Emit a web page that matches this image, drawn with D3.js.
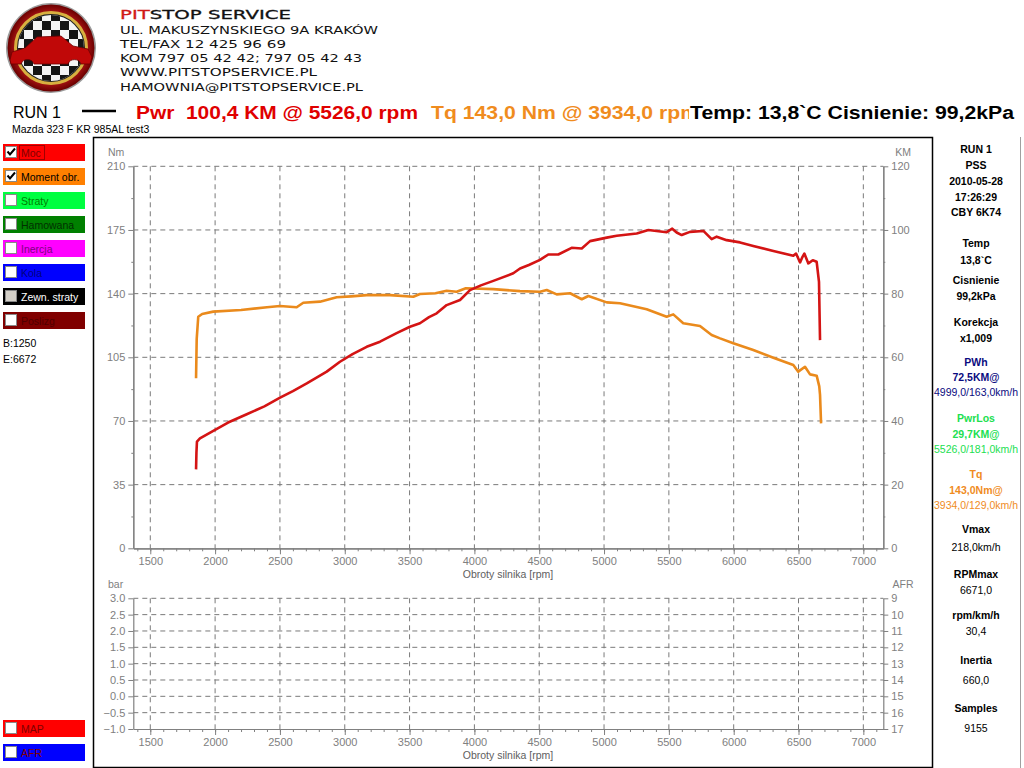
<!DOCTYPE html>
<html><head><meta charset="utf-8">
<script src="https://cdn.jsdelivr.net/npm/d3@7/dist/d3.min.js"></script>
<style>body{margin:0;background:#fff}svg{display:block}</style>
</head><body>
<svg id="c" width="1024" height="768"></svg>
<script>
// ---------------- DATA ----------------
const powerRpm = [1853,1856,1860,1883,1986,2100,2244,2380,2501,2600,2707,2861,2963,3060,3169,3272,3400,3503,3580,3650,3709,3786,3889,3966,4050,4146,4300,4352,4420,4506,4570,4647,4750,4828,4892,5021,5098,5252,5342,5420,5483,5526,5560,5599,5663,5766,5830,5869,5946,6049,6151,6306,6460,6481,6512,6530,6545,6576,6610,6640,6658,6666];
const powerKM  = [24.8,30.0,33.5,34.5,36.9,39.5,42.1,44.6,47.3,49.4,51.8,55.5,58.6,61.0,63.3,64.9,67.6,69.6,70.7,72.6,73.8,76.4,78.0,81.1,82.6,84.0,86.4,87.9,89.0,90.6,92.3,92.3,94.4,94.2,96.5,97.6,98.2,98.9,100.0,99.6,99.3,100.4,99.2,98.4,99.4,99.7,97.1,97.9,96.8,96.1,95.0,93.4,91.9,92.6,89.8,91.5,92.6,89.5,90.5,90.0,83.7,65.4];
const torqueRpm = [1853,1858,1870,1900,1986,2200,2400,2500,2629,2680,2809,2938,3050,3169,3350,3529,3580,3700,3786,3863,3934,4146,4352,4506,4558,4635,4738,4828,4879,5021,5123,5329,5483,5534,5611,5740,5830,5895,5997,6151,6306,6460,6498,6550,6589,6640,6660,6666,6674];
const torqueNm  = [93.5,115.0,127.3,128.8,130.1,131.0,132.5,133.2,132.5,135.0,135.6,138.0,138.5,139.2,139.2,138.3,139.8,140.2,141.6,141.0,143.0,142.5,141.4,141.0,142.0,139.6,140.2,136.9,138.7,135.2,134.7,131.4,127.3,128.6,123.7,122.2,117.3,115.4,112.7,109.0,104.8,100.8,97.1,99.8,95.6,94.9,89.0,84.3,68.7];
const rpmTicks = [1500,2000,2500,3000,3500,4000,4500,5000,5500,6000,6500,7000];
const nmTicks  = [0,35,70,105,140,175,210];
const kmTicks  = [0,20,40,60,80,100,120];
const barTicks = [-1.0,-0.5,0.0,0.5,1.0,1.5,2.0,2.5,3.0];
const afrTicks = [9,10,11,12,13,14,15,16,17];
const legendNames  = ["Moc","Moment obr.","Straty","Hamowana","Inercja","Kola","Zewn. straty","Poslizg"];
const legendColors = ["#ff0000","#ff8000","#00ff40","#008000","#ff00ff","#0000ff","#000000","#800000"];
const legendText   = ["#800000","#000000","#008000","#003000","#800080","#000080","#ffffff","#500000"];
const legendChecked= [true,true,false,false,false,false,false,false];
const legend2Names = ["MAP","AFR"];
const legend2Colors= ["#ff0000","#0000ff"];
const headerLines = ["UL. MAKUSZYNSKIEGO 9A KRAKÓW","TEL/FAX 12 425 96 69","KOM 797 05 42 42; 797 05 42 43","WWW.PITSTOPSERVICE.PL","HAMOWNIA@PITSTOPSERVICE.PL"];
const panelText  = ["RUN 1","PSS","2010-05-28","17:26:29","CBY 6K74","Temp","13,8`C","Cisnienie","99,2kPa","Korekcja","x1,009","PWh","72,5KM@","4999,0/163,0km/h","PwrLos","29,7KM@","5526,0/181,0km/h","Tq","143,0Nm@","3934,0/129,0km/h","Vmax","218,0km/h","RPMmax","6671,0","rpm/km/h","30,4","Inertia","660,0","Samples","9155"];
const panelKind  = ["b","b","b","b","b","b","b","b","b","b","b","pb","pb","pn","gb","gb","gn","ob","ob","on","b","n","b","n","b","n","b","n","b","n"];

// ---------------- DRAW ----------------
const svg = d3.select("#c");
const F = "'Liberation Sans', Arial, sans-serif";
const GRAY = "#808080";

// Logo
const defs = svg.append("defs");
const rg = defs.append("radialGradient").attr("id","rg");
rg.append("stop").attr("offset","70%").attr("stop-color","#d02020");
rg.append("stop").attr("offset","100%").attr("stop-color","#6a0000");
defs.append("clipPath").attr("id","lc").append("circle").attr("r",33);
const logo = svg.append("g").attr("transform","translate(51,48)");
logo.append("circle").attr("r",45).attr("fill","#9a9a9a");
logo.append("circle").attr("r",43.5).attr("fill","url(#rg)");
logo.append("circle").attr("r",35.5).attr("fill","#222").attr("stroke","#d8b040").attr("stroke-width",3);
const chk = logo.append("g").attr("clip-path","url(#lc)");
chk.append("rect").attr("x",-34).attr("y",-34).attr("width",68).attr("height",68).attr("fill","#f4f4f4");
for (let i=0;i<8;i++) for (let j=0;j<8;j++) if ((i+j)%2===0)
  chk.append("rect").attr("x",-36+i*9).attr("y",-36+j*9).attr("width",9).attr("height",9).attr("fill","#151515");
logo.append("path").attr("fill","#c00808").attr("stroke","#700000").attr("stroke-width",0.8)
  .attr("d","M-41,12 L-39,4 L-26,0 L-14,-11 L10,-12 L22,-2 L37,1 L41,9 L39,16 L30,16 A7,7 0 0 0 17,16 L-17,16 A7,7 0 0 0 -30,16 L-40,16 Z");

// Header text
svg.append("text").attr("x",120).attr("y",18.5).attr("font-family","'DejaVu Sans',sans-serif").attr("font-size",12.5)
  .attr("textLength",171).attr("lengthAdjust","spacingAndGlyphs").attr("fill","#111").attr("stroke","#111").attr("stroke-width",0.3)
  .call(t=>{t.append("tspan").attr("fill","#d01818").attr("stroke","#d01818").text("PIT");t.append("tspan").text("STOP SERVICE");});
const hlW = [258,166,242,197,243];
const hlY = [33.5,47.5,62,76,90.5];
headerLines.forEach((s,i)=>svg.append("text").attr("x",120).attr("y",hlY[i])
  .attr("font-family","'DejaVu Sans',sans-serif").attr("font-size",9.6).attr("fill","#111")
  .attr("textLength",hlW[i]).attr("lengthAdjust","spacingAndGlyphs").text(s));

// Run line
svg.append("text").attr("x",13).attr("y",118).attr("font-family",F).attr("font-size",16).attr("fill","#000").text("RUN 1");
svg.append("line").attr("x1",82).attr("x2",116).attr("y1",111).attr("y2",111).attr("stroke","#000").attr("stroke-width",2.5);
svg.append("text").attr("x",136).attr("y",118.5).attr("font-family",F).attr("font-size",18).attr("font-weight","bold")
  .attr("fill","#e00000").attr("textLength",282).attr("lengthAdjust","spacingAndGlyphs").attr("xml:space","preserve").text("Pwr  100,4 KM @ 5526,0 rpm");
svg.append("text").attr("x",431).attr("y",118.5).attr("font-family",F).attr("font-size",18).attr("font-weight","bold")
  .attr("fill","#f08c1e").attr("textLength",268).attr("lengthAdjust","spacingAndGlyphs").text("Tq 143,0 Nm @ 3934,0 rpm");
svg.append("rect").attr("x",689).attr("y",100).attr("width",335).attr("height",24).attr("fill","#fff");
svg.append("text").attr("x",690).attr("y",118.5).attr("font-family",F).attr("font-size",18).attr("font-weight","bold")
  .attr("fill","#000").attr("textLength",324).attr("lengthAdjust","spacingAndGlyphs").text("Temp: 13,8`C Cisnienie: 99,2kPa");
svg.append("text").attr("x",12).attr("y",132.5).attr("font-family",F).attr("font-size",10.5).attr("fill","#000").text("Mazda 323 F KR 985AL test3");

// Frames
svg.append("rect").attr("x",93.5).attr("y",137.5).attr("width",839).attr("height",630).attr("fill","none").attr("stroke","#000").attr("stroke-width",1.5);
svg.append("line").attr("x1",1020.5).attr("x2",1020.5).attr("y1",137).attr("y2",768).attr("stroke","#a0a0a0");

// Legend
function legendItem(y,name,color,tcol,checked){
  const g = svg.append("g").attr("transform",`translate(0,${y})`);
  g.append("rect").attr("x",3).attr("y",0).attr("width",82).attr("height",17).attr("fill",color);
  g.append("rect").attr("x",5.5).attr("y",2.5).attr("width",11).attr("height",11)
    .attr("fill", name==="Zewn. straty" ? "#d4d0c8" : "#fff").attr("stroke","#888").attr("stroke-width",1);
  if (checked) g.append("path").attr("d","M7.5,7.5 L10,10.5 L15,4.5").attr("fill","none").attr("stroke","#000").attr("stroke-width",2);
  g.append("text").attr("x",21).attr("y",12.5).attr("font-family",F).attr("font-size",10.5).attr("fill",tcol).text(name);
  if (name==="Moc") g.append("rect").attr("x",19.5).attr("y",1.5).attr("width",25).attr("height",14).attr("fill","none").attr("stroke","#400").attr("stroke-dasharray","1,1");
}
legendNames.forEach((n,i)=>legendItem(144+i*24,n,legendColors[i],legendText[i],legendChecked[i]));
svg.append("text").attr("x",3).attr("y",347).attr("font-family",F).attr("font-size",10.5).text("B:1250");
svg.append("text").attr("x",3).attr("y",363).attr("font-family",F).attr("font-size",10.5).text("E:6672");
legend2Names.forEach((n,i)=>legendItem(720+i*24,n,legend2Colors[i],"#800000",false));

// Scales
const x = d3.scaleLinear().domain([1369,7154]).range([133.3,883.3]);
const yNm = d3.scaleLinear().domain([0,210]).range([548.3,166.3]);
const yKm = d3.scaleLinear().domain([0,120]).range([548.3,166.3]);
const yBar = d3.scaleLinear().domain([-1,3]).range([729,598.3]);
const yAfr = d3.scaleLinear().domain([9,17]).range([598.3,729]);
const minorRpm = d3.range(1400,7200,100);

function styleAxis(g){
  g.selectAll("path.domain").attr("stroke",GRAY).attr("stroke-width",1.2);
  g.selectAll(".tick line").attr("stroke",GRAY);
  g.selectAll("text").attr("fill",GRAY).attr("font-family",F).attr("font-size",11);
}
function panel(yL, yR, lTicks, rTicks, lFmt, rFmt, lMinor, rMinor, lLab, rLab, xLabY){
  const [yb, yt] = yL.range();
  const grid = svg.append("g").attr("stroke","#7a7a7a").attr("stroke-dasharray","5,4").attr("stroke-width",1);
  rpmTicks.forEach(r=>grid.append("line").attr("x1",x(r)).attr("x2",x(r)).attr("y1",yt).attr("y2",yb));
  lTicks.forEach(v=>{ if (yL(v) < yb-1) grid.append("line").attr("x1",133.3).attr("x2",883.3).attr("y1",yL(v)).attr("y2",yL(v)); });
  const gx2 = svg.append("g").attr("transform",`translate(0,${yb})`).call(d3.axisBottom(x).tickValues(minorRpm).tickSize(3).tickFormat("").tickSizeOuter(0));
  styleAxis(gx2);
  const gx = svg.append("g").attr("transform",`translate(0,${yb})`).call(d3.axisBottom(x).tickValues(rpmTicks).tickSize(6).tickPadding(3).tickFormat(d3.format("d")).tickSizeOuter(0));
  styleAxis(gx);
  const gl = svg.append("g").attr("transform","translate(133.3,0)").call(d3.axisLeft(yL).tickValues(lTicks).tickSize(5).tickPadding(3).tickFormat(lFmt).tickSizeOuter(0));
  styleAxis(gl);
  if (lMinor) { const gm = svg.append("g").attr("transform","translate(133.3,0)").call(d3.axisLeft(yL).tickValues(lMinor).tickSize(2).tickFormat("").tickSizeOuter(0)); styleAxis(gm); }
  const gr = svg.append("g").attr("transform","translate(883.3,0)").call(d3.axisRight(yR).tickValues(rTicks).tickSize(5).tickPadding(3).tickFormat(rFmt).tickSizeOuter(0));
  styleAxis(gr);
  if (rMinor) { const gm = svg.append("g").attr("transform","translate(883.3,0)").call(d3.axisRight(yR).tickValues(rMinor).tickSize(2).tickFormat("").tickSizeOuter(0)); styleAxis(gm); }
  svg.append("text").attr("x",108).attr("y",yt-10).attr("font-family",F).attr("font-size",10.5).attr("fill",GRAY).text(lLab);
  svg.append("text").attr("x",903).attr("y",yt-10).attr("text-anchor","middle").attr("font-family",F).attr("font-size",10.5).attr("fill",GRAY).text(rLab);
  svg.append("text").attr("x",508).attr("y",xLabY).attr("text-anchor","middle").attr("font-family",F).attr("font-size",10.5).attr("fill","#606060").text("Obroty silnika [rpm]");
}
panel(yNm, yKm, nmTicks, kmTicks, d3.format("d"), d3.format("d"),
  [17.5,52.5,87.5,122.5,157.5,192.5], [10,30,50,70,90,110], "Nm", "KM", 578);
panel(yBar, yAfr, barTicks, afrTicks, d3.format(".1f"), d3.format("d"), null, null, "bar", "AFR", 759);

// Curves
const tq = torqueRpm.map((r,i)=>[r,torqueNm[i]]);
const pw = powerRpm.map((r,i)=>[r,powerKM[i]]);
svg.append("path").datum(tq).attr("fill","none").attr("stroke","#ea8a1c").attr("stroke-width",2.6).attr("stroke-linejoin","round")
  .attr("d",d3.line().x(d=>x(d[0])).y(d=>yNm(d[1])));
svg.append("path").datum(pw).attr("fill","none").attr("stroke","#d41414").attr("stroke-width",2.6).attr("stroke-linejoin","round")
  .attr("d",d3.line().x(d=>x(d[0])).y(d=>yKm(d[1])));

// Right info panel
const panelY = [149,165,181,197,212,243,260,280,296,322,338,362,377,392,418,434,449,474,490,505,529,547,574,590,615,631,660,680,708,728];
const kindColor = {b:"#000",n:"#000",pb:"#0a0a80",pn:"#0a0a80",gb:"#20e050",gn:"#20e050",ob:"#f08c1e",on:"#f08c1e"};
panelText.forEach((s,i)=>{
  const k = panelKind[i];
  svg.append("text").attr("x",976).attr("y",panelY[i]).attr("dy","0.35em").attr("text-anchor","middle")
    .attr("font-family",F).attr("font-size",10.5).attr("font-weight",k.endsWith("b")?"bold":"normal")
    .attr("fill",kindColor[k]).text(s);
});
</script>
</body></html>
